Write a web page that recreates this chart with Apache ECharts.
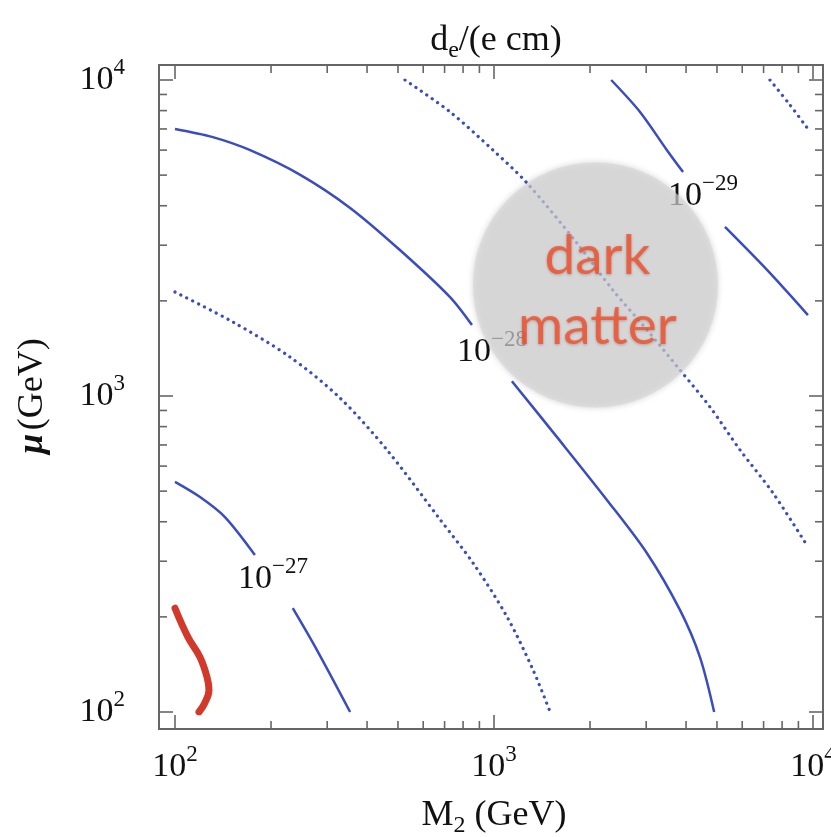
<!DOCTYPE html>
<html><head><meta charset="utf-8">
<script src="https://cdn.jsdelivr.net/npm/echarts@6/dist/echarts.min.js"></script>
<style>html,body{margin:0;padding:0;background:#fff}#c{width:831px;height:837px}</style>
</head><body><div id="c"></div>
<script>
// ---- data ----
const majorTicks = [100, 1000, 10000];
const minorTicks = [200,300,400,500,600,700,800,900,2000,3000,4000,5000,6000,7000,8000,9000];

const contour27a = [[100,535],[119.8,479],[143.4,414],[178,314]];
const contour27b = [[234,213],[278.6,157],[354,100]];
const contour275 = [[100,2133],[152,1714],[229,1330],[329,986],[462,675],[677,407],[860,296],[1099,200],[1325,136],[1500,100]];
const contour28a = [[100,7000],[130.6,6607],[172,5998],[247,5010],[354,3937],[507,2897],[728,2056],[853,1677]];
const contour28b = [[1138,1114],[1576,741],[2259,469],[3017,318],[3830,210],[4424,149],[4900,100]];
const contour285 = [[526,10000],[728,7925],[993,5998],[1269,4720],[1820,3048],[2360,2162],[3017,1618],[3830,1208],[4755,923],[5905,675],[7494,493],[9641,333]];
const contour29a = [[2330,10000],[2869,7925],[3485,5998],[3914,5116]];
const contour29b = [[5297,3427],[7177,2505],[9641,1803]];
const contour295 = [[7331,10000],[8472,8335],[9641,7000]];
const edmBound = [[100,213],[109.8,172.6],[119.8,149],[126,129],[127.8,117.4],[124,106.8],[118.9,100]];

const contourLabelPos = [[202.9,263.6],[985.6,1378],[4519,4295]];
const contourLabelExp = ['\u221227','\u221228','\u221229'];
const darkMatterPos = [[2080,2245]];

// ---- layout / style ----
const SERIF = 'Liberation Serif';
const INK = '#111111';
const BLUE = '#3a4cc2';
const RED = '#d2392b';
const FRAME = '#666666';
const PAD = {left:16, right:10, top:15, bottom:17};
const MAJOR_LEN = 14, MINOR_LEN = 8;

const supRich = {
  b: {fontSize: 34, lineHeight: 48, fontFamily: SERIF, color: INK, fontWeight: 'normal'},
  s: {fontSize: 23, lineHeight: 23, verticalAlign: 'top', fontFamily: SERIF, color: INK, fontWeight: 'normal'}
};
const subRich = {
  b: {fontSize: 36, lineHeight: 44, fontFamily: SERIF, color: INK, fontWeight: 'normal'},
  sub: {fontSize: 24, lineHeight: 24, verticalAlign: 'bottom', fontFamily: SERIF, color: INK, fontWeight: 'normal'}
};
const powLabel = v => '{b|10}{s|' + Math.round(Math.log10(v)) + '}';

function solid(data, name) {
  return {type:'line', name, data, showSymbol:false, smooth:0.3, z:2,
    lineStyle:{color:BLUE, width:2.5}};
}
function dotted(data, name) {
  return {type:'line', name, data, showSymbol:false, smooth:0.3, z:2,
    lineStyle:{color:BLUE, width:3.2, type:[0.1,6.5], cap:'round'}};
}

const tickData = majorTicks.map(v => [v, 1]).concat(minorTicks.map(v => [v, 0]));

const chart = echarts.init(document.getElementById('c'));
chart.setOption({
  animation: false,
  title: {
    text: '{b|d}{sub|e}{b|/(e cm)}',
    left: 491, top: 14, textAlign: 'center',
    textStyle: {fontWeight: 'normal', rich: subRich}
  },
  grid: {left: 175, right: 18, top: 80, bottom: 125, outerBoundsMode: 'none', containLabel: false},
  xAxis: {
    type: 'log', logBase: 10, min: 100, max: 10000,
    axisLine: {show: false}, axisTick: {show: false}, splitLine: {show: false},
    axisLabel: {margin: 31, formatter: powLabel, rich: supRich},
    name: '{b|M}{sub|2}{b| (GeV)}', nameLocation: 'middle', nameGap: 82,
    nameTextStyle: {rich: subRich}
  },
  yAxis: {
    type: 'log', logBase: 10, min: 100, max: 10000,
    axisLine: {show: false}, axisTick: {show: false}, splitLine: {show: false},
    axisLabel: {margin: 50, formatter: powLabel, rich: supRich},
    name: '{m|\u03bc} {b|(GeV)}', nameLocation: 'middle', nameRotate: 90, nameGap: 124,
    nameTextStyle: {rich: {
      m: {fontSize: 36, fontFamily: SERIF, fontStyle: 'italic', fontWeight: 'bold', color: INK},
      b: {fontSize: 36, fontFamily: SERIF, color: INK, fontWeight: 'normal'}
    }}
  },
  series: [
    solid(contour27a, '1e-27 a'), solid(contour27b, '1e-27 b'),
    dotted(contour275, '1e-27.5'),
    solid(contour28a, '1e-28 a'), solid(contour28b, '1e-28 b'),
    dotted(contour285, '1e-28.5'),
    solid(contour29a, '1e-29 a'), solid(contour29b, '1e-29 b'),
    dotted(contour295, '1e-29.5'),
    {type:'line', name:'bound', data: edmBound, showSymbol:false, smooth:0.4, z:3,
      lineStyle:{color:RED, width:7, cap:'round'}},
    {type:'scatter', name:'contour labels', data: contourLabelPos, symbolSize: 1, z:3,
      itemStyle:{color:'#ffffff', opacity: 0},
      label:{show:true, position:'inside', color: INK, opacity: 1, textBorderWidth: 0,
        formatter: p => '{b|10}{s|' + contourLabelExp[p.dataIndex] + '}', rich: supRich}},
    {type:'scatter', name:'dark matter', data: darkMatterPos, symbolSize: 245, z:5,
      itemStyle:{color:'rgba(214,214,214,0.86)', shadowBlur:6, shadowColor:'rgba(0,0,0,0.25)'},
      label:{show:true, position:'inside', formatter:'dark\nmatter', color:'#f6502b',
        fontFamily:'Lato', fontSize:55, lineHeight:70, offset:[2,6],
        textShadowColor:'rgba(0,0,0,0.3)', textShadowBlur:3, textShadowOffsetY:1}},
    {type:'custom', name:'frame', data:[[100,100]], z:10, clip:false, silent:true,
      renderItem: (params) => {
        const cs = params.coordSys;
        return {type:'rect', shape:{x: cs.x - PAD.left, y: cs.y - PAD.top,
          width: cs.width + PAD.left + PAD.right, height: cs.height + PAD.top + PAD.bottom},
          style:{fill:'none', stroke:FRAME, lineWidth:2}};
      }},
    {type:'custom', name:'x ticks', data: tickData.map(t => [t[0], 100, t[1]]), z:10, clip:false, silent:true,
      renderItem: (params, api) => {
        const cs = params.coordSys;
        const px = api.coord([api.value(0), 100])[0];
        const len = api.value(2) ? MAJOR_LEN : MINOR_LEN;
        const top = cs.y - PAD.top, bot = cs.y + cs.height + PAD.bottom;
        const st = {stroke:FRAME, lineWidth:1.6};
        return {type:'group', children:[
          {type:'line', shape:{x1:px, y1:top, x2:px, y2:top+len}, style:st},
          {type:'line', shape:{x1:px, y1:bot, x2:px, y2:bot-len}, style:st}
        ]};
      }},
    {type:'custom', name:'y ticks', data: tickData.map(t => [100, t[0], t[1]]), z:10, clip:false, silent:true,
      renderItem: (params, api) => {
        const cs = params.coordSys;
        const py = api.coord([100, api.value(1)])[1];
        const len = api.value(2) ? MAJOR_LEN : MINOR_LEN;
        const l = cs.x - PAD.left, r = cs.x + cs.width + PAD.right;
        const st = {stroke:FRAME, lineWidth:1.6};
        return {type:'group', children:[
          {type:'line', shape:{x1:l, y1:py, x2:l+len, y2:py}, style:st},
          {type:'line', shape:{x1:r, y1:py, x2:r-len, y2:py}, style:st}
        ]};
      }}
  ]
});
</script></body></html>
